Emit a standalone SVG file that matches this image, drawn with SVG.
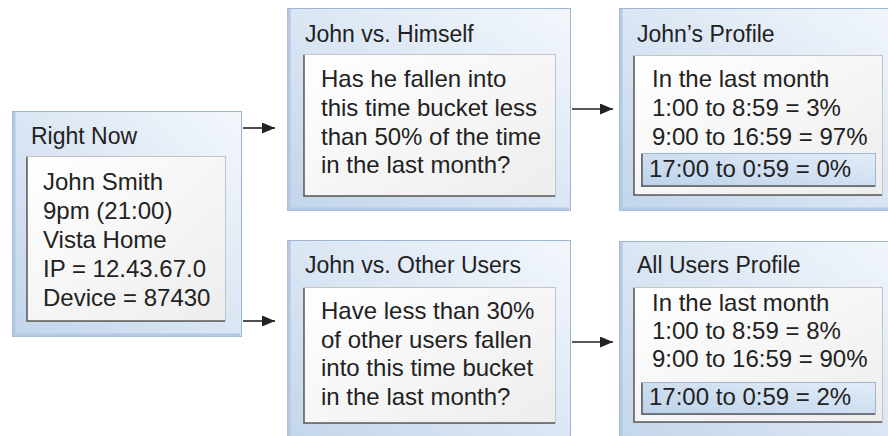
<svg xmlns="http://www.w3.org/2000/svg" width="888" height="436" viewBox="0 0 888 436">
  <defs>
    <linearGradient id="gOuter" x1="0" y1="1" x2="1" y2="0">
      <stop offset="0" stop-color="#c2d5eb"/>
      <stop offset="1" stop-color="#f3f7fc"/>
    </linearGradient>
    <linearGradient id="gInner" x1="0" y1="0" x2="1" y2="1">
      <stop offset="0" stop-color="#ffffff"/>
      <stop offset="1" stop-color="#ededed"/>
    </linearGradient>
    <linearGradient id="gHi" x1="0" y1="1" x2="1" y2="0">
      <stop offset="0" stop-color="#bcd2ea"/>
      <stop offset="1" stop-color="#e2ecf7"/>
    </linearGradient>
    <marker id="arrow" markerUnits="userSpaceOnUse" markerWidth="14" markerHeight="12" refX="13" refY="5.5" orient="auto">
      <path d="M0,0 L13,5.5 L0,11 z" fill="#222"/>
    </marker>
  </defs>
  <style>
    .outer { fill: url(#gOuter); stroke: #9fb6d2; stroke-width: 1; }
    .oshade { stroke: #b4c9e1; stroke-width: 3; fill: none; }
    .inner { fill: url(#gInner); stroke: #c4c4c4; stroke-width: 1; }
    .ishade { stroke: #5a5a5a; stroke-width: 1.5; fill: none; }
    .hi { fill: url(#gHi); stroke: #9fb6d2; stroke-width: 1; }
    .title { font-family: "Liberation Sans", Arial, sans-serif; font-size: 23px; fill: #222; }
    .body { font-family: "Liberation Sans", Arial, sans-serif; font-size: 24px; fill: #222; }
    .conn { stroke: #222; stroke-width: 1.6; fill: none; marker-end: url(#arrow); }
  </style>
  <rect width="888" height="436" fill="#ffffff"/>

  <g id="node-right-now">
    <rect class="outer" x="12.5" y="111.5" width="229" height="225"/>
    <path class="oshade" d="M14,112 V335 H240"/>
    <rect class="inner" x="26.5" y="156.5" width="199" height="165"/>
    <path class="ishade" d="M27,157 V321 H225"/>
    <text class="title" x="31" y="144">Right Now</text>
    <text class="body" x="43" y="190">John Smith</text>
    <text class="body" x="43" y="219">9pm (21:00)</text>
    <text class="body" x="43" y="248">Vista Home</text>
    <text class="body" x="43" y="277">IP = 12.43.67.0</text>
    <text class="body" x="43" y="306">Device = 87430</text>
  </g>

  <g id="node-john-vs-himself">
    <rect class="outer" x="287.5" y="8.5" width="283" height="202"/>
    <path class="oshade" d="M289,9 V209 H569"/>
    <rect class="inner" x="303.5" y="54.5" width="252" height="142"/>
    <path class="ishade" d="M304,55 V196 H555"/>
    <text class="title" x="305" y="42">John vs. Himself</text>
    <text class="body" x="321" y="87">Has he fallen into</text>
    <text class="body" x="321" y="116">this time bucket less</text>
    <text class="body" x="321" y="145">than 50% of the time</text>
    <text class="body" x="321" y="173">in the last month?</text>
  </g>

  <g id="node-johns-profile">
    <rect class="outer" x="619.5" y="8.5" width="290" height="202"/>
    <path class="oshade" d="M621,9 V209 H900"/>
    <rect class="inner" x="633.5" y="55.5" width="249" height="140"/>
    <path class="ishade" d="M634,56 V195 H882"/>
    <rect class="hi" x="641.5" y="153.5" width="234" height="33"/>
    <path class="ishade" d="M642,154 V186 H875"/>
    <text class="title" x="637" y="42">John’s Profile</text>
    <text class="body" x="652" y="87">In the last month</text>
    <text class="body" x="652" y="116">1:00 to 8:59 = 3%</text>
    <text class="body" x="652" y="145">9:00 to 16:59 = 97%</text>
    <text class="body" x="649" y="177">17:00 to 0:59 = 0%</text>
  </g>

  <g id="node-john-vs-others">
    <rect class="outer" x="287.5" y="240.5" width="283" height="210"/>
    <path class="oshade" d="M289,241 V450"/>
    <rect class="inner" x="303.5" y="287.5" width="252" height="136"/>
    <path class="ishade" d="M304,288 V423 H555"/>
    <text class="title" x="305" y="273">John vs. Other Users</text>
    <text class="body" x="321" y="319">Have less than 30%</text>
    <text class="body" x="321" y="348">of other users fallen</text>
    <text class="body" x="321" y="376">into this time bucket</text>
    <text class="body" x="321" y="405">in the last month?</text>
  </g>

  <g id="node-all-users-profile">
    <rect class="outer" x="619.5" y="241.5" width="290" height="210"/>
    <path class="oshade" d="M621,242 V450"/>
    <rect class="inner" x="633.5" y="287.5" width="249" height="135"/>
    <path class="ishade" d="M634,288 V422 H882"/>
    <rect class="hi" x="641.5" y="382.5" width="234" height="32"/>
    <path class="ishade" d="M642,383 V414 H875"/>
    <text class="title" x="637" y="273">All Users Profile</text>
    <text class="body" x="652" y="311">In the last month</text>
    <text class="body" x="652" y="339">1:00 to 8:59 = 8%</text>
    <text class="body" x="652" y="367">9:00 to 16:59 = 90%</text>
    <text class="body" x="649" y="405">17:00 to 0:59 = 2%</text>
  </g>

  <g id="connectors">
    <line class="conn" x1="243" y1="128" x2="275" y2="128"/>
    <line class="conn" x1="243" y1="321" x2="275" y2="321"/>
    <line class="conn" x1="572" y1="109" x2="613" y2="109"/>
    <line class="conn" x1="572" y1="342" x2="613" y2="342"/>
  </g>
</svg>
